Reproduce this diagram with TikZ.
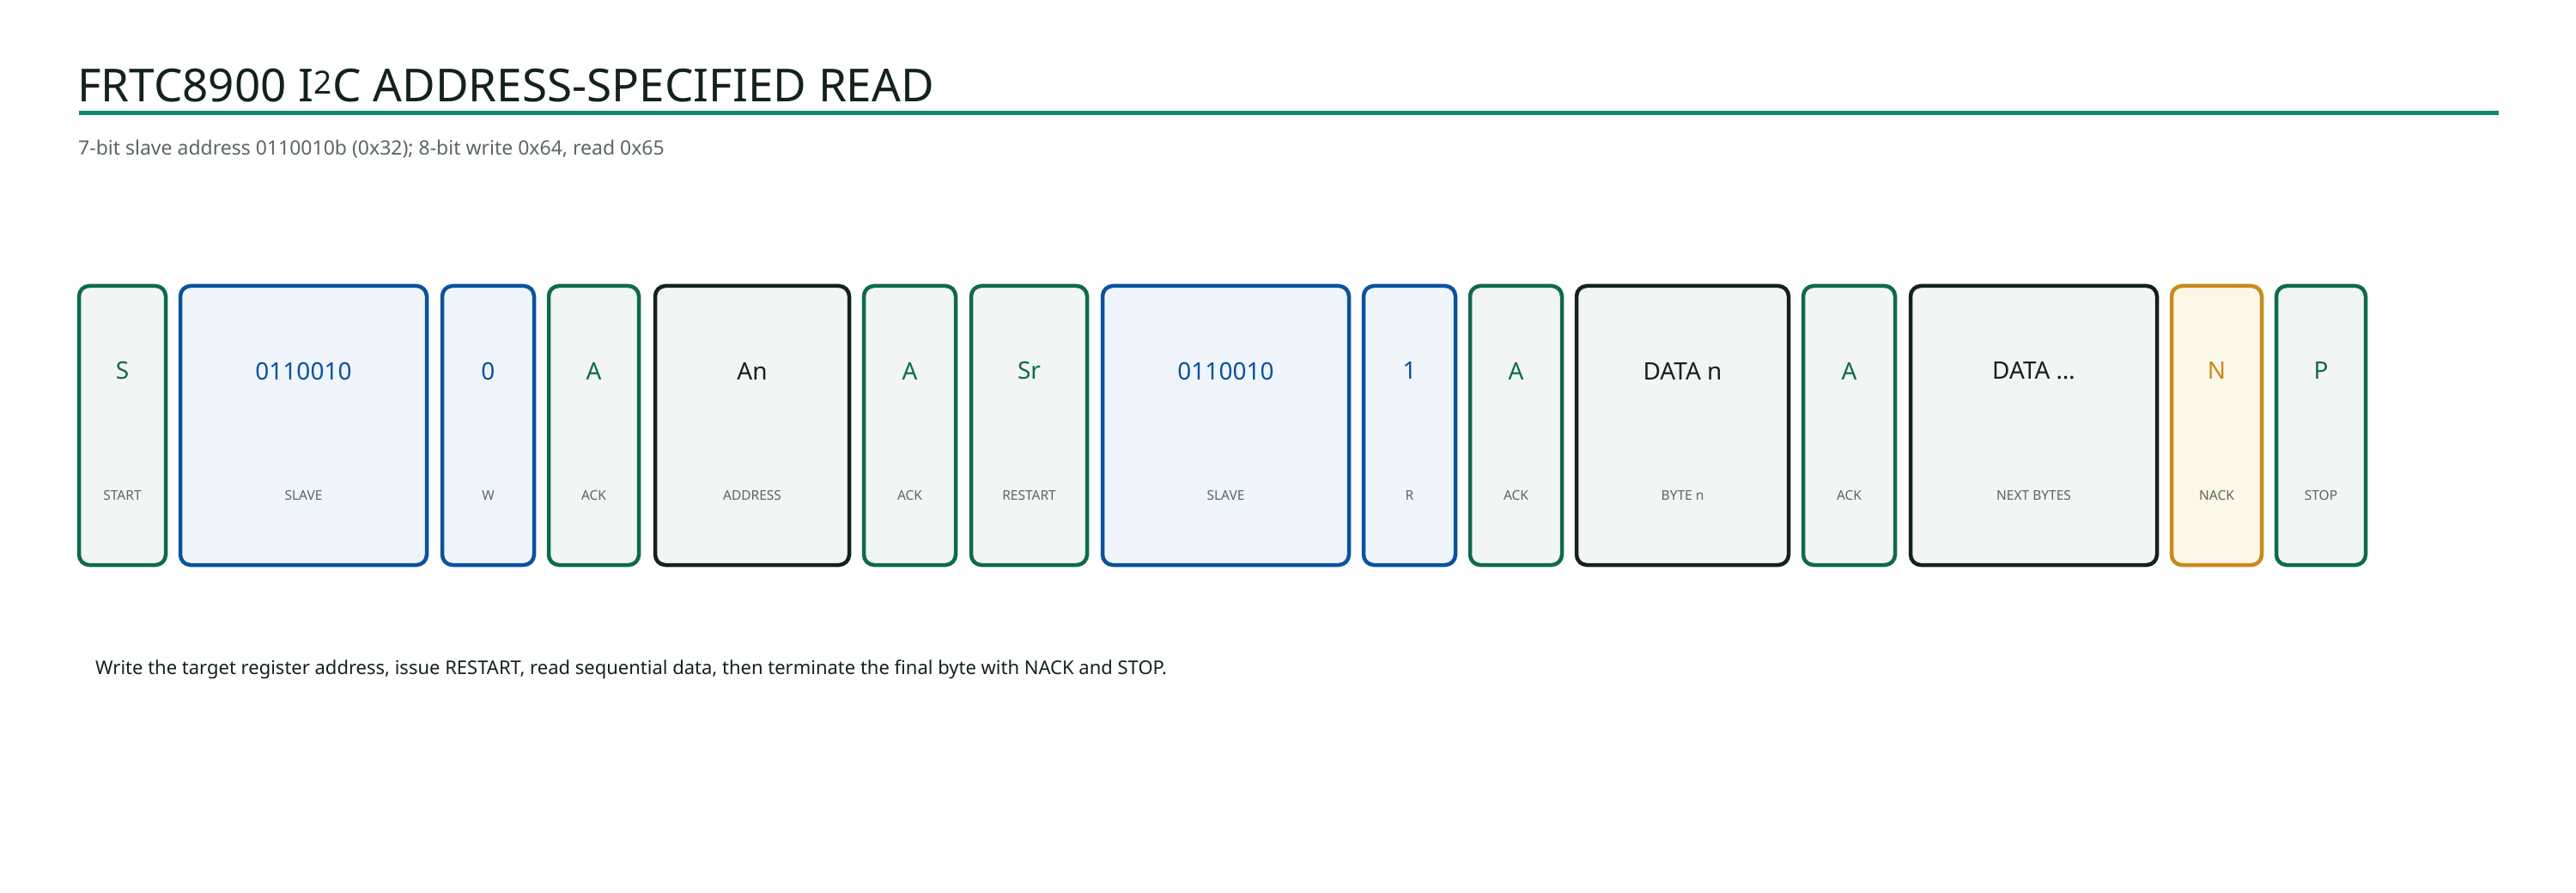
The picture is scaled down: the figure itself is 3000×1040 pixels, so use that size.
\documentclass[tikz,border=0pt]{standalone}
\usepackage{fontspec}
\setmainfont{Noto Sans}
\definecolor{grn}{HTML}{0E6A4F}\definecolor{grnf}{HTML}{F1F5F3}
\definecolor{blu}{HTML}{0B529E}\definecolor{bluf}{HTML}{EFF5FA}
\definecolor{drk}{HTML}{13221E}
\definecolor{org}{HTML}{C98A1C}\definecolor{orgf}{HTML}{FCF7E7}
\definecolor{teal}{HTML}{0E8A6C}\definecolor{gry}{HTML}{5A6663}
\begin{document}
\begin{tikzpicture}[x=1pt,y=1pt,
 fld/.style={draw=#1,line width=4.5pt,rounded corners=12pt},
 big/.style={font=\fontsize{28}{32}\selectfont\bfseries},
 sml/.style={font=\fontsize{15.5}{18}\selectfont,text=gry}]
\useasboundingbox[fill=white] (0,0) rectangle (3000,-1040);
\node[anchor=base west,font=\fontsize{53}{60}\selectfont\bfseries,text=drk,inner sep=0] (title) at (90,-119) {FRTC8900 I\textsuperscript{2}C ADDRESS-SPECIFIED READ};
\draw[teal,line width=5pt] (92,-132) -- (2910,-132);
\node[anchor=west,font=\fontsize{23}{26}\selectfont,text=gry,inner sep=0] (sub) at (91,-174) {7-bit slave address 0110010b (0x32); 8-bit write 0x64, read 0x65};
\foreach \n/\a/\b/\m/\s/\c/\f/\t in {
 s/92/193/S/START/grn/grnf/grn,
 sl1/210/497/0110010/SLAVE/blu/bluf/blu,
 w/515/622/0/W/blu/bluf/blu,
 a1/639/744/A/ACK/grn/grnf/grn,
 an/763/989/An/ADDRESS/drk/grnf/drk,
 a2/1006/1113/A/ACK/grn/grnf/grn,
 sr/1131/1266/Sr/RESTART/grn/grnf/grn,
 sl2/1284/1571/0110010/SLAVE/blu/bluf/blu,
 r/1588/1695/1/R/blu/bluf/blu,
 a3/1712/1819/A/ACK/grn/grnf/grn,
 dn/1836/2083/DATA n/BYTE n/drk/grnf/drk,
 a4/2100/2207/A/ACK/grn/grnf/grn,
 dd/2225/2512/DATA \ldots/NEXT BYTES/drk/grnf/drk,
 nk/2529/2634/N/NACK/org/orgf/org,
 p/2651/2755/P/STOP/grn/grnf/grn}{
 \draw[fld=\c,fill=\f] (\a,-333) rectangle (\b,-658);
 \node[big,text=\t] (\n) at ({(\a+\b)/2},-432) {\m};
 \node[sml] (\n-l) at ({(\a+\b)/2},-577) {\s};
}
\node[anchor=west,font=\fontsize{22}{26}\selectfont,text=drk,inner sep=0] (cap) at (111,-780) {Write the target register address, issue RESTART, read sequential data, then terminate the final byte with NACK and STOP.};
\end{tikzpicture}
\end{document}
